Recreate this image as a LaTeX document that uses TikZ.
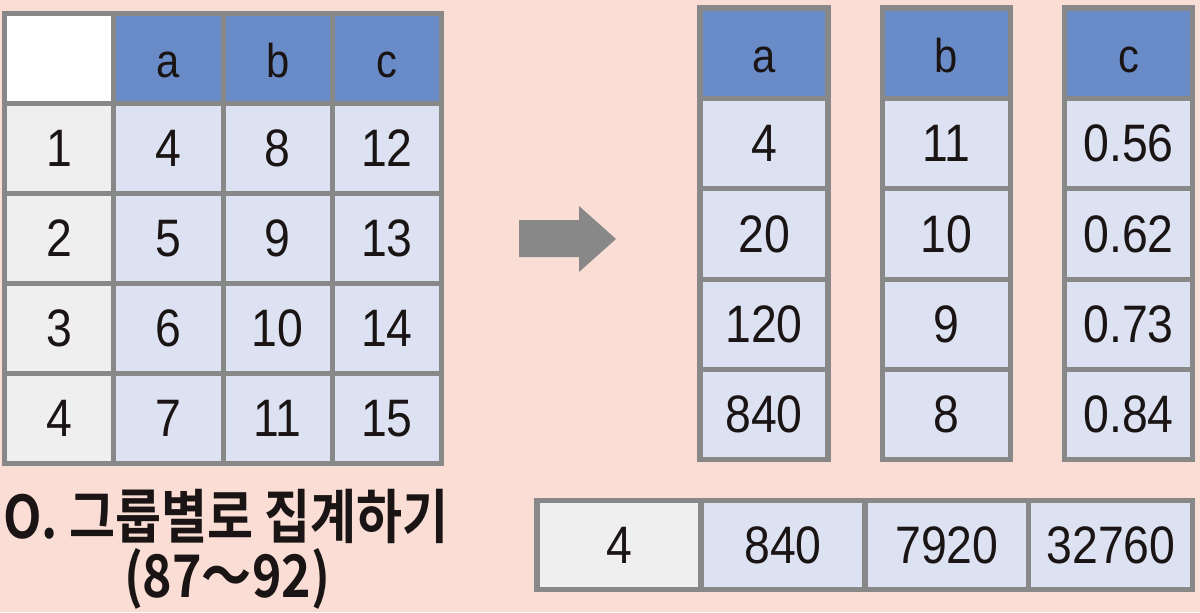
\documentclass[tikz,border=0pt]{standalone}
\usepackage{fontspec}
\setmainfont[FakeStretch=0.88]{Liberation Sans}
\newfontfamily\krfont[FakeStretch=0.85]{Noto Sans CJK KR Bold}
\usetikzlibrary{positioning}
\definecolor{bgpink}{HTML}{FADDD5}
\definecolor{gridgray}{HTML}{888888}
\definecolor{headblue}{HTML}{698CC8}
\definecolor{cellblue}{HTML}{DCE2F2}
\definecolor{idxgray}{HTML}{EFEFEF}
\definecolor{inkblack}{HTML}{1A1414}

\begin{document}
\begin{tikzpicture}[x=0.02cm,y=-0.02cm,node distance=0pt]
	\tikzstyle{cell}=[rectangle, draw=gridgray, line width=2.9pt, outer sep=0pt, inner sep=0pt, fill=cellblue, text=inkblack, font=\fontsize{30}{30}\selectfont, minimum width=2.186cm, minimum height=1.8cm]
	\tikzstyle{head}=[cell, fill=headblue, font=\fontsize{27}{27}\selectfont, text height=0.76cm, text depth=0pt]
	\tikzstyle{idx}=[cell, fill=idxgray]
	\tikzstyle{narrow}=[minimum width=2.56cm, minimum height=1.808cm]
	\tikzstyle{wide}=[minimum width=3.28cm, minimum height=1.78cm]
	\tikzstyle{title}=[text=inkblack, font=\krfont\fontsize{33.5}{33.5}\selectfont]
	
	\fill[bgpink] (0,0) rectangle (1200,612);
	\useasboundingbox (0,0) rectangle (1200,612);
	
	% left table
	\node[cell, fill=white] (h0) at (59.15,58.5) {};
	\node[head]         (ha) [right=of h0] {a};
	\node[head]         (hb) [right=of ha] {b};
	\node[head]         (hc) [right=of hb] {c};
	
	\node[idx]          (i1) [below=of h0] {1};
	\node[cell]         (a1) [right=of i1] {4};
	\node[cell]         (b1) [right=of a1] {8};
	\node[cell]         (c1) [right=of b1] {12};
	
	\node[idx]          (i2) [below=of i1] {2};
	\node[cell]         (a2) [right=of i2] {5};
	\node[cell]         (b2) [right=of a2] {9};
	\node[cell]         (c2) [right=of b2] {13};
	
	\node[idx]          (i3) [below=of i2] {3};
	\node[cell]         (a3) [right=of i3] {6};
	\node[cell]         (b3) [right=of a3] {10};
	\node[cell]         (c3) [right=of b3] {14};
	
	\node[idx]          (i4) [below=of i3] {4};
	\node[cell]         (a4) [right=of i4] {7};
	\node[cell]         (b4) [right=of a4] {11};
	\node[cell]         (c4) [right=of b4] {15};
	
	\node[title]        (ttl) at (226,516) {O. 그룹별로 집계하기};
	\node[title]        (rng) at (227,579) {(87～92)};
	
	% arrow
	\fill[gridgray] (519,220) -- (579,220) -- (579,206) -- (616,239) -- (579,272) -- (579,257) -- (519,257) -- cycle;
	
	% aggregated columns
	\node[head, narrow] (ra) at (764,53.2) {a};
	\node[cell, narrow] (ra1) [below=of ra] {4};
	\node[cell, narrow] (ra2) [below=of ra1] {20};
	\node[cell, narrow] (ra3) [below=of ra2] {120};
	\node[cell, narrow] (ra4) [below=of ra3] {840};
	
	\node[head, narrow] (rb) at (946.25,53.2) {b};
	\node[cell, narrow] (rb1) [below=of rb] {11};
	\node[cell, narrow] (rb2) [below=of rb1] {10};
	\node[cell, narrow] (rb3) [below=of rb2] {9};
	\node[cell, narrow] (rb4) [below=of rb3] {8};
	
	\node[head, narrow] (rc) at (1128.5,53.2) {c};
	\node[cell, narrow] (rc1) [below=of rc] {0.56};
	\node[cell, narrow] (rc2) [below=of rc1] {0.62};
	\node[cell, narrow] (rc3) [below=of rc2] {0.73};
	\node[cell, narrow] (rc4) [below=of rc3] {0.84};
	
	% single row
	\node[idx, wide]    (s0) at (619,545) {4};
	\node[cell, wide]   (s1) [right=of s0] {840};
	\node[cell, wide]   (s2) [right=of s1] {7920};
	\node[cell, wide]   (s3) [right=of s2] {32760};
	
\end{tikzpicture}
\end{document}
